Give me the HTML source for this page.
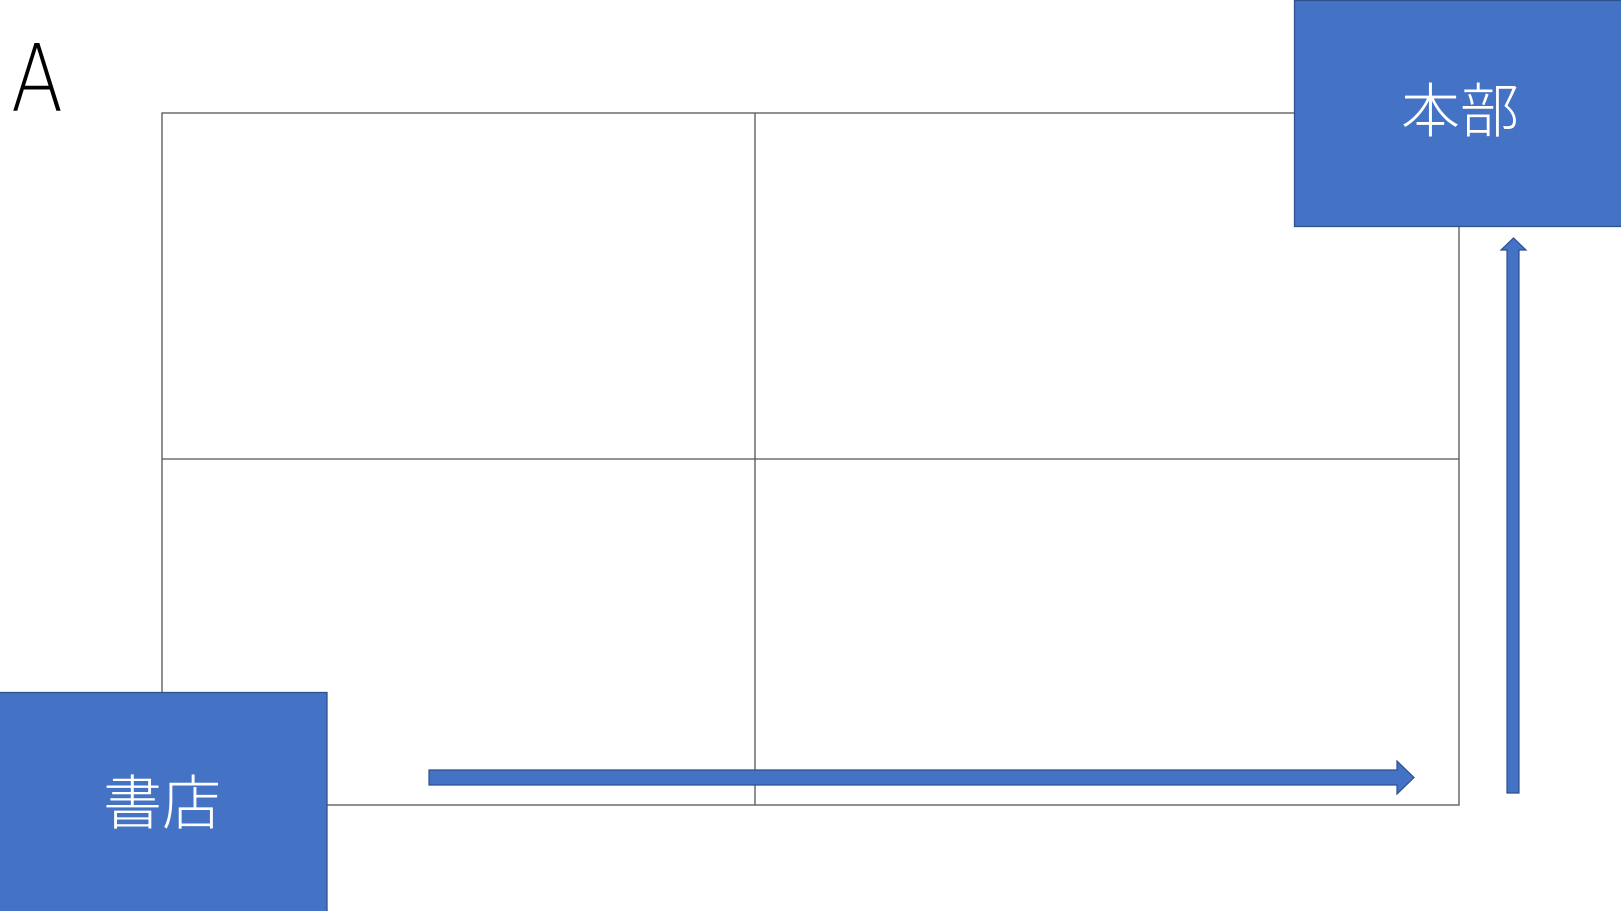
<!DOCTYPE html>
<html><head><meta charset="utf-8"><style>
body{margin:0;width:1621px;height:911px;background:#fff;overflow:hidden;position:relative;font-family:"Liberation Sans","Noto Sans CJK JP",sans-serif}
svg{position:absolute;left:0;top:0}
</style></head><body>
<svg width="1621" height="911">
<text x="0" y="0" transform="translate(11,111) scale(0.82,1)" font-size="93" font-family="DejaVu Sans, sans-serif" font-weight="200" fill="#000">A</text>
<g stroke="#555" stroke-width="1.3" fill="none">
<rect x="162" y="113" width="1297" height="692"/>
<line x1="755" y1="113" x2="755" y2="805"/>
<line x1="162" y1="459" x2="1459" y2="459"/>
</g>
<polygon points="429,770 1397,770 1397,761 1414,777.5 1397,794 1397,785 429,785" fill="#4472c4" stroke="#2f4f8f" stroke-width="1.2"/>
<polygon points="1507,793 1507,250 1501,250 1513.5,238 1526,250 1519,250 1519,793" fill="#4472c4" stroke="#2f4f8f" stroke-width="1.2"/>
<rect x="1294.5" y="0.5" width="330" height="226" fill="#4472c4" stroke="#2f528f" stroke-width="1.3"/>
<text x="1460" y="132" font-size="59" fill="#fff" text-anchor="middle" font-family="Noto Sans CJK JP, sans-serif" font-weight="300">本部</text>
<rect x="-2" y="692.5" width="329" height="222" fill="#4472c4" stroke="#2f528f" stroke-width="1.3"/>
<text x="162" y="824" font-size="59" fill="#fff" text-anchor="middle" font-family="Noto Sans CJK JP, sans-serif" font-weight="300">書店</text>
</svg>
</body></html>
